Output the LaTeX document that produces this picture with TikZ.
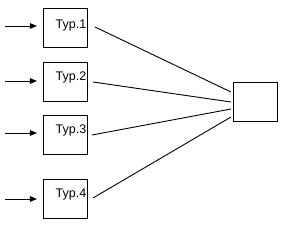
\documentclass[tikz,border=0pt]{standalone}
\usepackage{fontspec}
\setmainfont{Liberation Sans}
\usetikzlibrary{arrows.meta}
\begin{document}
\begin{tikzpicture}[x=1pt,y=-1pt,
  typbox/.style={draw,line width=0.9pt,minimum width=44pt,minimum height=39pt,inner sep=0pt},
  lbl/.style={font=\fontsize{12.5}{14}\selectfont,anchor=base east,inner sep=0pt},
  inarrow/.style={line width=0.9pt,-{Triangle[length=7pt,width=5.5pt]}},
  conn/.style={line width=0.9pt}]
\useasboundingbox (0,0) rectangle (285,226);
\node[typbox] (t1) at (65,27.5) {};
\node[typbox] (t2) at (65,81.5) {};
\node[typbox] (t3) at (65,134.5) {};
\node[typbox] (t4) at (65,198.5) {};
\node[typbox] (r) at (255,101.5) {};
\node[lbl] (l1) at (86.5,28) {Typ.1};
\node[lbl] (l2) at (86.5,80) {Typ.2};
\node[lbl] (l3) at (86.5,133) {Typ.3};
\node[lbl] (l4) at (86.5,197) {Typ.4};
\coordinate (a1) at (5,26);
\coordinate (a2) at (5,81);
\coordinate (a3) at (5,133);
\coordinate (a4) at (5,199);
\coordinate (b1) at (37,26);
\coordinate (b2) at (37,81);
\coordinate (b3) at (37,133);
\coordinate (b4) at (37,199);
\draw[inarrow] (a1) -- (b1);
\draw[inarrow] (a2) -- (b2);
\draw[inarrow] (a3) -- (b3);
\draw[inarrow] (a4) -- (b4);
\coordinate (s1) at (95,27);
\coordinate (s2) at (93,82);
\coordinate (s3) at (92,135);
\coordinate (s4) at (93,198);
\coordinate (e1) at (231,92);
\coordinate (e2) at (231,102);
\coordinate (e3) at (231,109);
\coordinate (e4) at (231,117);
\draw[conn] (s1) -- (e1);
\draw[conn] (s2) -- (e2);
\draw[conn] (s3) -- (e3);
\draw[conn] (s4) -- (e4);
\end{tikzpicture}
\end{document}
